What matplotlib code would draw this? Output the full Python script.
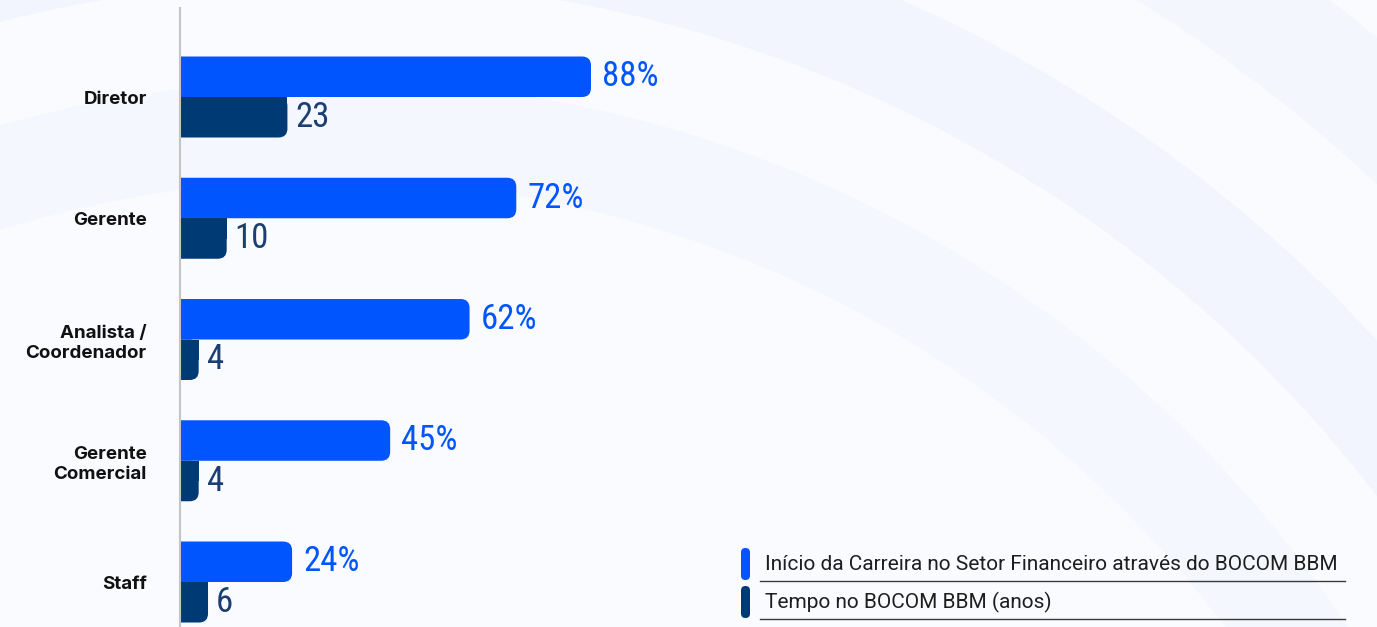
import matplotlib.pyplot as plt
from matplotlib.patches import FancyBboxPatch, Rectangle, Circle

# dados
categorias = ["Diretor", "Gerente", "Analista /\nCoordenador", "Gerente\nComercial", "Staff"]
inicio_carreira = [88, 72, 62, 45, 24]   # %
tempo_anos = [23, 10, 4, 4, 6]           # anos
legenda = ["Início da Carreira no Setor Financeiro através do BOCOM BBM",
           "Tempo no BOCOM BBM (anos)"]

AZUL = "#0055FF"
MARINHO = "#003A75"
W, H = 1377, 627

fig = plt.figure(figsize=(W / 100, H / 100), dpi=100)
fig.patch.set_facecolor("#FAFBFE")

# fundo com arcos suaves
bg = fig.add_axes([0, 0, 1, 1], zorder=0)
bg.set_xlim(0, W)
bg.set_ylim(H, 0)
bg.axis("off")
for r, c in [(1640, "#F3F6FD"), (1530, "#FAFBFE"), (1420, "#F2F5FD"), (1320, "#FAFBFE"),
             (1220, "#F4F7FD"), (1120, "#FAFBFE")]:
    bg.add_patch(Circle((330, 1300), r, fc=c, ec="none"))

# legenda manual
for i, (txt, cor) in enumerate(zip(legenda, [AZUL, MARINHO])):
    y = 564 + 38 * i
    bg.add_patch(FancyBboxPatch((741, y - 16), 9, 32, boxstyle="round,pad=0,rounding_size=4.5",
                                fc=cor, ec="none"))
    bg.text(765, y, txt, va="center", ha="left", fontsize=15, family="Roboto",
            color="#1E1E1E")
    bg.plot([760, 1345], [y + 17, y + 17], color="#3A3A3A", lw=1)

# grafico
x0 = 180
ax = fig.add_axes([x0 / W, 0, (W - x0) / W, (H - 8) / H], zorder=1)
ax.patch.set_alpha(0)
xmax = 88 * (W - x0) / 411
ax.set_xlim(0, xmax)
ax.set_ylim(-0.371, 4.734)

pos = list(range(len(categorias)))[::-1]
h = 0.334
sx = (W - x0) / xmax            # px por unidade x
sy = (H - 8) / (4.734 + 0.371)  # px por unidade y
raio = 9 / sx
asp = sx / sy

b1 = ax.barh([p + h / 2 for p in pos], inicio_carreira, height=h, color=AZUL)
b2 = ax.barh([p - h / 2 for p in pos], tempo_anos, height=h, color=MARINHO)

for barras, cor, topo_reto in [(b1, AZUL, False), (b2, MARINHO, True)]:
    for rect in barras:
        rx, ry = rect.get_x(), rect.get_y()
        rw, rh = rect.get_width(), rect.get_height()
        rect.set_visible(False)
        ax.add_patch(FancyBboxPatch((rx - 3 * raio, ry), rw + 3 * raio, rh,
                                    boxstyle=f"round,pad=0,rounding_size={raio}",
                                    mutation_aspect=asp, fc=cor, ec="none"))
        if topo_reto:
            ax.add_patch(Rectangle((rx, ry + rh / 2), rw, rh / 2, fc=cor, ec="none"))

fonte_num = ["Roboto Condensed", "DejaVu Sans"]
for p, v in zip(pos, inicio_carreira):
    ax.text(v + 11 / sx, p + h / 2, f"{v}%", va="center", ha="left", fontsize=25,
            family=fonte_num, color=AZUL)
for p, v in zip(pos, tempo_anos):
    ax.text(v + 8 / sx, p - h / 2, f"{v}", va="center", ha="left", fontsize=25,
            family=fonte_num, color="#1C3F73")

ax.set_yticks(pos)
ax.set_yticklabels(categorias, family="Inter", fontweight="bold", fontsize=13.5,
                   color="#111111", linespacing=1.25)
ax.tick_params(axis="y", length=0, pad=24)
ax.set_xticks([])
for s in ["top", "right", "bottom"]:
    ax.spines[s].set_visible(False)
ax.spines["left"].set_color("#C4C4C4")
ax.spines["left"].set_linewidth(1.5)

fig.savefig("out.png", dpi=100, facecolor=fig.get_facecolor())
